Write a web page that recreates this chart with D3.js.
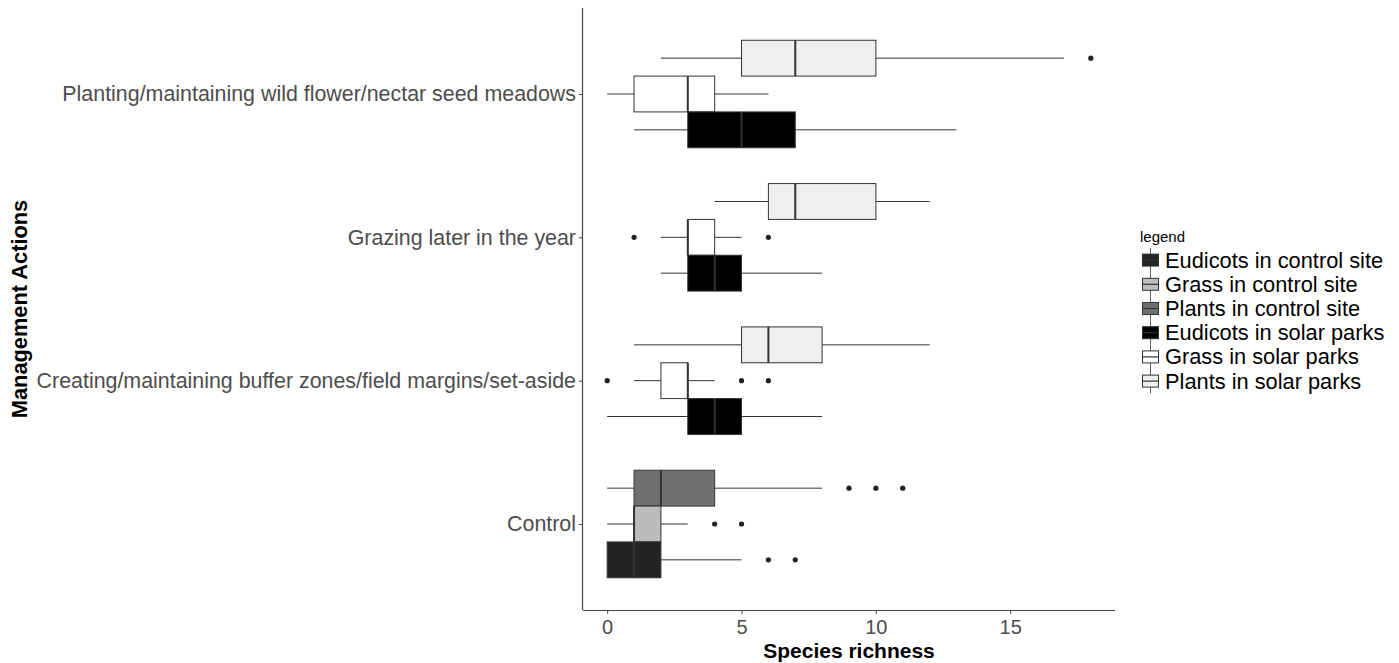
<!DOCTYPE html>
<html>
<head>
<meta charset="utf-8">
<script src="https://cdn.jsdelivr.net/npm/d3@7"></script>
<style>
	body { margin: 0; background: #fff; }
	svg { display: block; font-family: "Liberation Sans", Arial, sans-serif; }
</style>
</head>
<body>
<div id="chart"></div>
<script>
// categories (top to bottom)
const categories = [
	"Planting/maintaining wild flower/nectar seed meadows",
	"Grazing later in the year",
	"Creating/maintaining buffer zones/field margins/set-aside",
	"Control"
];
// legend series
const seriesNames = [
	"Eudicots in control site",
	"Grass in control site",
	"Plants in control site",
	"Eudicots in solar parks",
	"Grass in solar parks",
	"Plants in solar parks"
];
const seriesFills = [ "#242424", "#bcbcbc", "#707070", "#000000", "#ffffff", "#efefef" ];

// one entry per box
const boxCategory = [ 0, 0, 0, 1, 1, 1, 2, 2, 2, 3, 3, 3 ];
const boxSeries   = [ 5, 4, 3, 5, 4, 3, 5, 4, 3, 2, 1, 0 ];
const whiskerLow  = [ 2, 0, 1, 4, 2, 2, 1, 1, 0, 0, 0, 0 ];
const q1          = [ 5, 1, 3, 6, 3, 3, 5, 2, 3, 1, 1, 0 ];
const medians     = [ 7, 3, 5, 7, 3, 4, 6, 3, 4, 2, 1, 1 ];
const q3          = [ 10, 4, 7, 10, 4, 5, 8, 3, 5, 4, 2, 2 ];
const whiskerHigh = [ 17, 6, 13, 12, 5, 8, 12, 4, 8, 8, 3, 5 ];
const outliers    = [ [18], [], [], [], [1, 6], [], [], [0, 5, 6], [], [9, 10, 11], [4, 5], [6, 7] ];

const xTicks = [ 0, 5, 10, 15 ];

let width = 1399,
	height = 663,
	panel = { left: 583, right: 1115, top: 8, bottom: 610 },
	svg = d3.select( '#chart' )
		.append( 'svg' )
		.attr( 'width', width )
		.attr( 'height', height );

let x = d3.scaleLinear()
		.domain( [ -0.9, 18.9 ] )
		.range( [ panel.left, panel.right ] ),
	y = d3.scalePoint()
		.domain( categories )
		.range( [ panel.top, panel.bottom ] )
		.padding( 0.6 ),
	groupH = y.step() * 0.75,
	// slot inside a group: Plants on top, Grass middle, Eudicots bottom
	slot = d3.scaleBand()
		.domain( [ 'Plants', 'Grass', 'Eudicots' ] )
		.range( [ -groupH / 2, groupH / 2 ] );

let boxes = boxCategory.map( ( c, i )=>{
	return {
		cat: categories[ c ],
		series: boxSeries[ i ],
		lo: whiskerLow[ i ], q1: q1[ i ], med: medians[ i ], q3: q3[ i ], hi: whiskerHigh[ i ],
		out: outliers[ i ]
	};
} );

let g = svg.append( 'g' );
boxes.forEach( ( b )=>{
	let kind = seriesNames[ b.series ].split( ' ' )[ 0 ],
		top = y( b.cat ) + slot( kind ),
		h = slot.bandwidth(),
		mid = top + h / 2;
	// whiskers
	g.append( 'line' )
		.attr( 'x1', x( b.lo ) ).attr( 'x2', x( b.q1 ) )
		.attr( 'y1', mid ).attr( 'y2', mid )
		.attr( 'stroke', '#333' ).attr( 'stroke-width', 1 );
	g.append( 'line' )
		.attr( 'x1', x( b.q3 ) ).attr( 'x2', x( b.hi ) )
		.attr( 'y1', mid ).attr( 'y2', mid )
		.attr( 'stroke', '#333' ).attr( 'stroke-width', 1 );
	// box
	g.append( 'rect' )
		.attr( 'x', x( b.q1 ) )
		.attr( 'y', top )
		.attr( 'width', x( b.q3 ) - x( b.q1 ) )
		.attr( 'height', h )
		.attr( 'fill', seriesFills[ b.series ] )
		.attr( 'stroke', '#333' )
		.attr( 'stroke-width', 1 );
	// median
	g.append( 'line' )
		.attr( 'x1', x( b.med ) ).attr( 'x2', x( b.med ) )
		.attr( 'y1', top ).attr( 'y2', top + h )
		.attr( 'stroke', '#333' ).attr( 'stroke-width', 2 );
	// outliers
	g.selectAll( null )
		.data( b.out )
		.enter()
		.append( 'circle' )
		.attr( 'cx', ( d )=> x( d ) )
		.attr( 'cy', mid )
		.attr( 'r', 2.6 )
		.attr( 'fill', '#222' );
} );

// axes
let xAxis = svg.append( 'g' )
	.attr( 'transform', `translate(0,${ panel.bottom })` )
	.call( d3.axisBottom( x ).tickValues( xTicks ).tickSize( 4 ).tickPadding( 6 ) );
xAxis.select( '.domain' ).attr( 'd', `M${ panel.left },0.5H${ panel.right }` );

let yAxis = svg.append( 'g' )
	.attr( 'transform', `translate(${ panel.left },0)` )
	.call( d3.axisLeft( y ).tickSize( 4 ).tickPadding( 3 ) );
yAxis.select( '.domain' ).attr( 'd', `M-0.5,${ panel.top }V${ panel.bottom }` );

[ xAxis, yAxis ].forEach( ( a )=>{
	a.select( '.domain' ).attr( 'stroke', '#444' ).attr( 'stroke-width', 1.2 );
	a.selectAll( '.tick line' ).attr( 'stroke', '#444' );
	a.selectAll( '.tick text' )
		.attr( 'fill', '#4d4d4d' )
		.style( 'font-size', '21.4px' )
		.style( 'font-family', '"Liberation Sans", Arial, sans-serif' );
} );
xAxis.selectAll( '.tick text' ).style( 'font-size', '20px' );

// axis titles
svg.append( 'text' )
	.attr( 'x', ( panel.left + panel.right ) / 2 )
	.attr( 'y', 658 )
	.attr( 'text-anchor', 'middle' )
	.attr( 'font-size', '21px' )
	.attr( 'font-weight', 'bold' )
	.attr( 'fill', '#000' )
	.text( 'Species richness' );

svg.append( 'text' )
	.attr( 'transform', `translate(27,${ ( panel.top + panel.bottom ) / 2 }) rotate(-90)` )
	.attr( 'text-anchor', 'middle' )
	.attr( 'font-size', '21.8px' )
	.attr( 'font-weight', 'bold' )
	.attr( 'fill', '#000' )
	.text( 'Management Actions' );

// legend
let legend = svg.append( 'g' ).attr( 'transform', 'translate(1140,226)' );
legend.append( 'text' )
	.attr( 'x', 0 ).attr( 'y', 16 )
	.attr( 'font-size', '15px' )
	.attr( 'fill', '#000' )
	.text( 'legend' );

let rowH = 24.2,
	keys = legend.selectAll( 'g.key' )
		.data( seriesNames )
		.enter()
		.append( 'g' )
		.attr( 'class', 'key' )
		.attr( 'transform', ( d, i )=> `translate(0,${ 22 + i * rowH })` );

keys.append( 'line' )
	.attr( 'x1', 10.5 ).attr( 'x2', 10.5 )
	.attr( 'y1', 0 ).attr( 'y2', rowH )
	.attr( 'stroke', '#333' ).attr( 'stroke-width', 0.8 );
keys.append( 'rect' )
	.attr( 'x', 2.5 ).attr( 'y', rowH / 2 - 6 )
	.attr( 'width', 16 ).attr( 'height', 12 )
	.attr( 'fill', ( d, i )=> seriesFills[ i ] )
	.attr( 'stroke', '#333' ).attr( 'stroke-width', 1 );
keys.append( 'line' )
	.attr( 'x1', 2.5 ).attr( 'x2', 18.5 )
	.attr( 'y1', rowH / 2 ).attr( 'y2', rowH / 2 )
	.attr( 'stroke', '#333' ).attr( 'stroke-width', 1.2 );
keys.append( 'text' )
	.attr( 'x', 25 )
	.attr( 'y', rowH / 2 + 7.5 )
	.attr( 'font-size', '21.8px' )
	.attr( 'fill', '#000' )
	.text( ( d )=> d );
</script>
</body>
</html>
